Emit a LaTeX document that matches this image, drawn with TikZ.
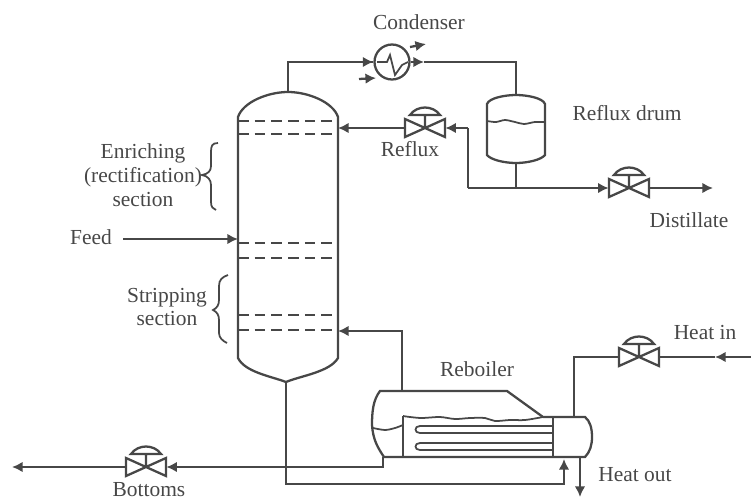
\documentclass[tikz,border=0pt]{standalone}
\usepackage{fontspec}
\setmainfont{Liberation Serif}
\usepackage{tikz}
\usetikzlibrary{arrows.meta, positioning, calc}

\begin{document}
\begin{tikzpicture}[x=0.02cm, y=-0.02cm,
    pipe/.style={draw=black!72, line width=1.3pt, line join=miter},
    flow/.style={pipe, -{Latex[length=6pt, width=6pt]}},
    thin pipe/.style={draw=black!72, line width=1pt},
    tray/.style={draw=black!72, line width=1.4pt, dash pattern=on 6pt off 3.5pt},
    label/.style={inner sep=0pt, align=center, text=black!72, font=\fontsize{12.2}{13.6}\selectfont},
    valve/.style={inner sep=0pt, minimum width=0.8cm, minimum height=0.36cm},
]
  \useasboundingbox (0,0) rectangle (751,501);

  % Column shell
  \draw[pipe] (238,358) -- (238,117) .. controls (243,102) and (268,92) .. (288,92)
    .. controls (308,92) and (333,102) .. (338,117) -- (338,358)
    .. controls (330,372) and (300,376) .. (286,382)
    .. controls (270,376) and (245,372) .. (238,358) -- cycle;
  \foreach \y in {121,134,243,258,315,330}
    \draw[tray] (238,\y) -- (338,\y);
  \coordinate (coltop) at (288,92);
  \coordinate (colbot) at (286,382);
  \coordinate (colreflux) at (338,128);
  \coordinate (colfeed) at (238,239);
  \coordinate (colboil) at (338,331);

  % Condenser
  \node[circle, pipe, minimum size=0.7cm, inner sep=0pt] (cond) at (392,62) {};
  \draw[thin pipe] (377,62) -- (387,62) -- (390,55) -- (395,75) -- (402,65) -- (408,62);
  \coordinate (condout) at (424,62);
  \coordinate (cwina) at (359,79);
  \coordinate (cwinb) at (376,78);
  \coordinate (cwouta) at (410,47);
  \coordinate (cwoutb) at (426,44);

  % Reflux drum
  \draw[pipe] (487,155) -- (487,104) .. controls (489,98) and (505,95) .. (516,95)
    .. controls (527,95) and (543,98) .. (545,104) -- (545,155)
    .. controls (541,160) and (527,163) .. (516,163)
    .. controls (505,163) and (491,160) .. (487,155) -- cycle;
  \draw[thin pipe] plot[smooth] coordinates {(487,121) (496,122) (505,120) (515,122) (524,124) (535,122) (545,122)};
  \coordinate (drumtop) at (516,95);
  \coordinate (drumbot) at (516,163);
  \coordinate (distjoin) at (516,188);

  % Reboiler
  \draw[pipe] (543,417) -- (507,391) -- (380,391) .. controls (373,400) and (372,412) .. (372,425)
    .. controls (373,440) and (378,448) .. (384,457) -- (585,457)
    .. controls (590,452) and (592,445) .. (592,437) .. controls (592,428) and (590,421) .. (585,417) -- (553,417) -- (543,417);
  \draw[pipe] (553,417) -- (553,457);
  \draw[pipe] (403,416) -- (403,457);
  \draw[thin pipe] plot[smooth] coordinates {(403,416) (410,417) (422,418) (440,417) (455,419) (470,418) (485,418) (495,421) (510,420) (525,420) (543,417)};
  \draw[thin pipe] plot[smooth] coordinates {(373,428) (385,430) (395,428) (403,425)};
  \foreach \y/\yy in {426/433,443/450}
    \draw[thin pipe] (553,\y) -- (420,\y) .. controls (414,\y) and (414,\yy) .. (420,\yy) -- (553,\yy);
  \coordinate (boiltop) at (402,391);
  \coordinate (boildrain) at (383,457);
  \coordinate (boilin) at (564,459);
  \coordinate (headtop) at (574,417);
  \coordinate (headbot) at (580,457);

  % Valves
  \node[valve] (vreflux) at (425,128) {};
  \node[valve] (vdist) at (629,188) {};
  \node[valve] (vheat) at (639,357) {};
  \node[valve] (vbot) at (146,467) {};
  \foreach \v in {vreflux,vdist,vheat,vbot} {
    \draw[pipe, shift={(\v.center)}] (-20,-9) -- (20,9) -- (20,-9) -- (-20,9) -- cycle
      (0,0) -- (0,-13)
      (-15,-13) .. controls (-8,-23) and (8,-23) .. (15,-13) -- cycle;
  }

  % Lines
  \coordinate (feedin) at (123,239);
  \coordinate (refluxbend) at (468,128);
  \coordinate (refluxlow) at (468,188);
  \coordinate (distout) at (713,188);
  \coordinate (heatedge) at (751,357);
  \coordinate (heatmid) at (715,357);
  \coordinate (botout) at (12,467);
  \coordinate (heatoutend) at (580,497);
  \draw[pipe] (coltop) |- (cond.west);
  \draw[flow] (364,62) -- (cond.west);
  \draw[flow] (cond.east) -- (condout);
  \draw[pipe] (condout) -| (drumtop);
  \draw[flow] (cwina) -- (cwinb);
  \draw[flow] (cwouta) -- (cwoutb);
  \draw[flow] (feedin) -- (colfeed);
  \draw[flow] (vreflux.west) -- (colreflux);
  \draw[flow] (refluxbend) -- (vreflux.east);
  \draw[pipe] (refluxlow) -- (refluxbend);
  \draw[pipe] (drumbot) -- (distjoin);
  \draw[flow] (refluxlow) -- (vdist.west);
  \draw[flow] (vdist.east) -- (distout);
  \draw[flow] (boiltop) |- (colboil);
  \draw[flow] (heatedge) -- (heatmid);
  \draw[pipe] (heatmid) -- (vheat.east);
  \draw[pipe] (vheat.west) -| (headtop);
  \draw[flow] (colbot) |- (564,484) -- (boilin);
  \draw[flow] (boildrain) |- (vbot.east);
  \draw[flow] (vbot.west) -- (botout);
  \draw[flow] (headbot) -- (heatoutend);

  % Section braces
  \draw[thin pipe] (218,143) .. controls (212,143) and (211,146) .. (211,152) -- (211,166)
    .. controls (211,171) and (208,174) .. (202,175) .. controls (208,176) and (211,180) .. (211,185)
    -- (211,202) .. controls (211,207) and (213,209) .. (216,210);
  \draw[thin pipe] (228,275) .. controls (222,277) and (219,280) .. (219,286) -- (219,300)
    .. controls (219,305) and (217,308) .. (213,310) .. controls (217,312) and (219,315) .. (219,320)
    -- (219,333) .. controls (219,338) and (223,341) .. (227,343);

  % Labels
  \node[label] (lbcond) at (419,22) {Condenser};
  \node[label] (lbdrum) at (627,113) {Reflux drum};
  \node[label] (lbreflux) at (410,149) {Reflux};
  \node[label] (lbdist) at (689,220) {Distillate};
  \node[label] (lbenrich) at (143,175) {Enriching\\(rectification)\\section};
  \node[label] (lbfeed) at (91,237) {Feed};
  \node[label] (lbstrip) at (167,307) {Stripping\\section};
  \node[label] (lbboil) at (477,369) {Reboiler};
  \node[label] (lbheatin) at (705,333) {Heat in};
  \node[label] (lbheatout) at (635,475) {Heat out};
  \node[label] (lbbot) at (149,490) {Bottoms};
\end{tikzpicture}
\end{document}
